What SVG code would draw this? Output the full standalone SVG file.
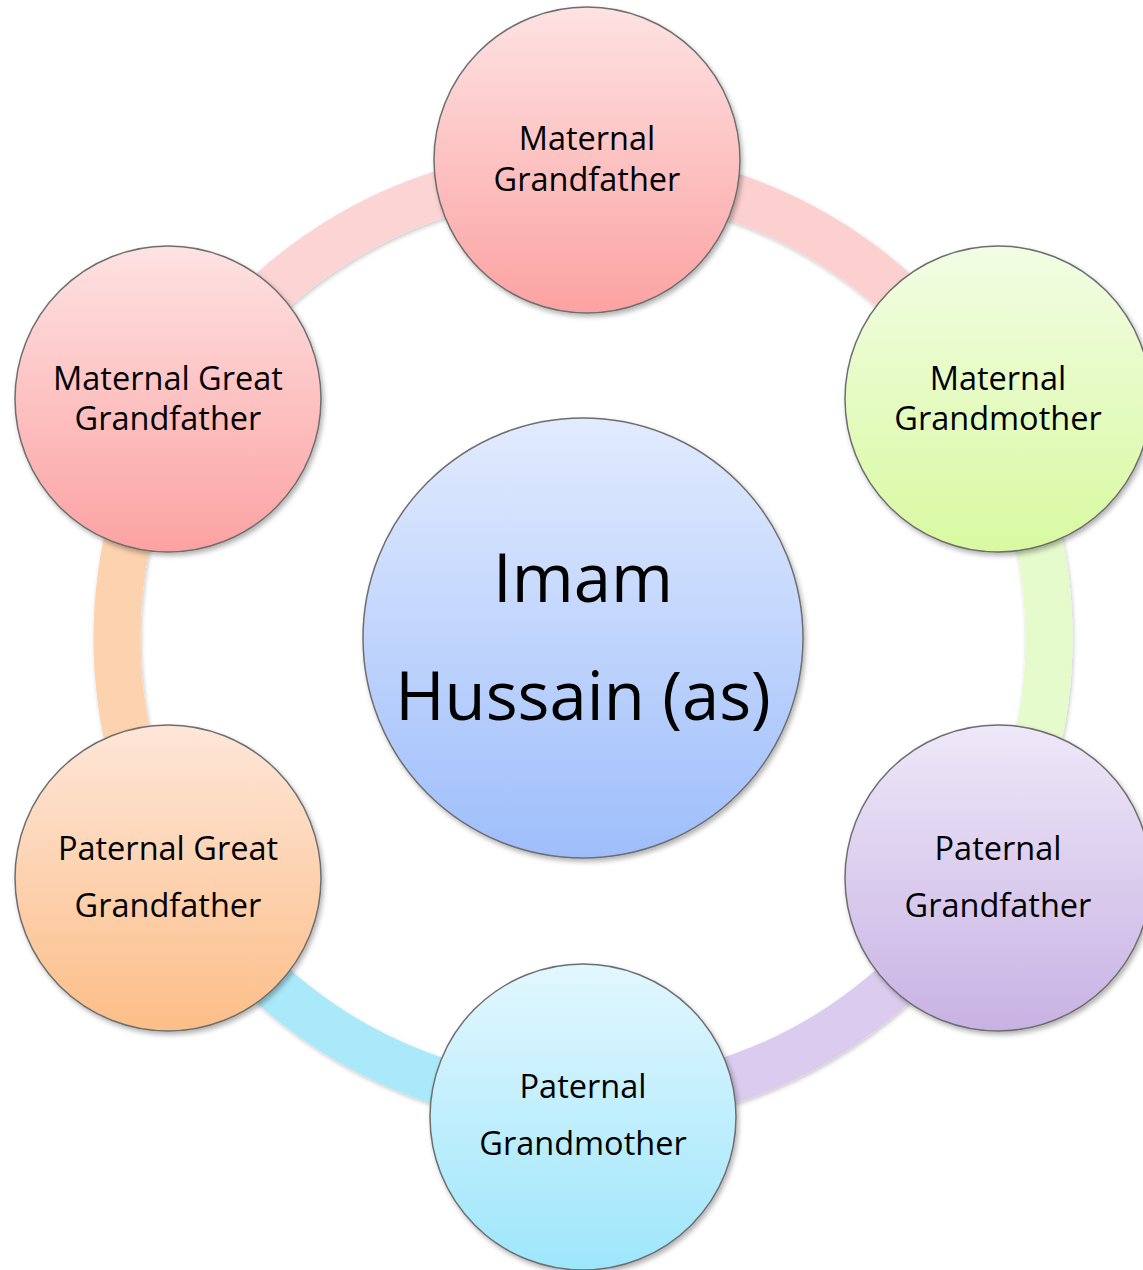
<svg xmlns="http://www.w3.org/2000/svg" width="1143" height="1270" viewBox="0 0 1143 1270">
<style>
.node{stroke:#6e6e6e;stroke-width:1.5;filter:url(#sh)}
.lbl{font-family:"Open Sans","Noto Sans","Liberation Sans",sans-serif;font-size:32.5px;fill:#000;text-anchor:middle}
.big{font-family:"Open Sans","Noto Sans","Liberation Sans",sans-serif;font-size:67px;fill:#000;text-anchor:middle}
.arc{fill:none;stroke-width:47;filter:url(#ash)}
</style>
<defs>
<filter id="sh" x="-10%" y="-10%" width="120%" height="125%"><feDropShadow dx="2" dy="3" stdDeviation="2.5" flood-color="#000" flood-opacity="0.3"/></filter>
<filter id="ash" filterUnits="userSpaceOnUse" x="0" y="0" width="1143" height="1270"><feDropShadow dx="1" dy="2" stdDeviation="2" flood-color="#000" flood-opacity="0.22"/></filter>
<linearGradient id="gPink" x1="0" y1="0" x2="0" y2="1"><stop offset="0" stop-color="#fee2e2"/><stop offset="1" stop-color="#fca2a2"/></linearGradient>
<linearGradient id="gGreen" x1="0" y1="0" x2="0" y2="1"><stop offset="0" stop-color="#f2fde4"/><stop offset="1" stop-color="#d8f9a0"/></linearGradient>
<linearGradient id="gPurple" x1="0" y1="0" x2="0" y2="1"><stop offset="0" stop-color="#eee8f8"/><stop offset="1" stop-color="#c8b2e4"/></linearGradient>
<linearGradient id="gCyan" x1="0" y1="0" x2="0" y2="1"><stop offset="0" stop-color="#e2f7fe"/><stop offset="1" stop-color="#9ee6fb"/></linearGradient>
<linearGradient id="gPeach" x1="0" y1="0" x2="0" y2="1"><stop offset="0" stop-color="#fee6d8"/><stop offset="1" stop-color="#fcbe88"/></linearGradient>
<linearGradient id="gBlue" x1="0" y1="0" x2="0" y2="1"><stop offset="0" stop-color="#e2ebfe"/><stop offset="1" stop-color="#9ebefb"/></linearGradient>
</defs>
<rect width="1143" height="1270" fill="#fff"/>
<g id="connectors">
<path class="arc" stroke="#fdd4d4" d="M179.4 405 A466 466 0 0 1 583 172"/>
<path class="arc" stroke="#fdd0d0" d="M583 172 A466 466 0 0 1 986.6 405"/>
<path class="arc" stroke="#e6fbcc" d="M986.6 405 A466 466 0 0 1 986.6 871"/>
<path class="arc" stroke="#dacbef" d="M986.6 871 A466 466 0 0 1 583 1104"/>
<path class="arc" stroke="#a9e9f9" d="M583 1104 A466 466 0 0 1 179.4 871"/>
<path class="arc" stroke="#fdd2ae" d="M179.4 871 A466 466 0 0 1 179.4 405"/>
</g>
<g id="center">
<circle class="node" cx="583" cy="638" r="220" fill="url(#gBlue)"/>
<text class="big" x="583" y="602">Imam</text>
<text class="big" x="583" y="720">Hussain (as)</text>
</g>
<g id="maternal-grandfather">
<circle class="node" cx="587" cy="160" r="153" fill="url(#gPink)"/>
<text class="lbl" x="587" y="150">Maternal</text>
<text class="lbl" x="587" y="191">Grandfather</text>
</g>
<g id="maternal-grandmother">
<circle class="node" cx="998" cy="399" r="153" fill="url(#gGreen)"/>
<text class="lbl" x="998" y="390">Maternal</text>
<text class="lbl" x="998" y="430">Grandmother</text>
</g>
<g id="maternal-great-grandfather">
<circle class="node" cx="168" cy="399" r="153" fill="url(#gPink)"/>
<text class="lbl" x="168" y="390">Maternal Great</text>
<text class="lbl" x="168" y="430">Grandfather</text>
</g>
<g id="paternal-great-grandfather">
<circle class="node" cx="168" cy="878" r="153" fill="url(#gPeach)"/>
<text class="lbl" x="168" y="860">Paternal Great</text>
<text class="lbl" x="168" y="917">Grandfather</text>
</g>
<g id="paternal-grandfather">
<circle class="node" cx="998" cy="878" r="153" fill="url(#gPurple)"/>
<text class="lbl" x="998" y="860">Paternal</text>
<text class="lbl" x="998" y="917">Grandfather</text>
</g>
<g id="paternal-grandmother">
<circle class="node" cx="583" cy="1117" r="153" fill="url(#gCyan)"/>
<text class="lbl" x="583" y="1098">Paternal</text>
<text class="lbl" x="583" y="1155">Grandmother</text>
</g>
</svg>
